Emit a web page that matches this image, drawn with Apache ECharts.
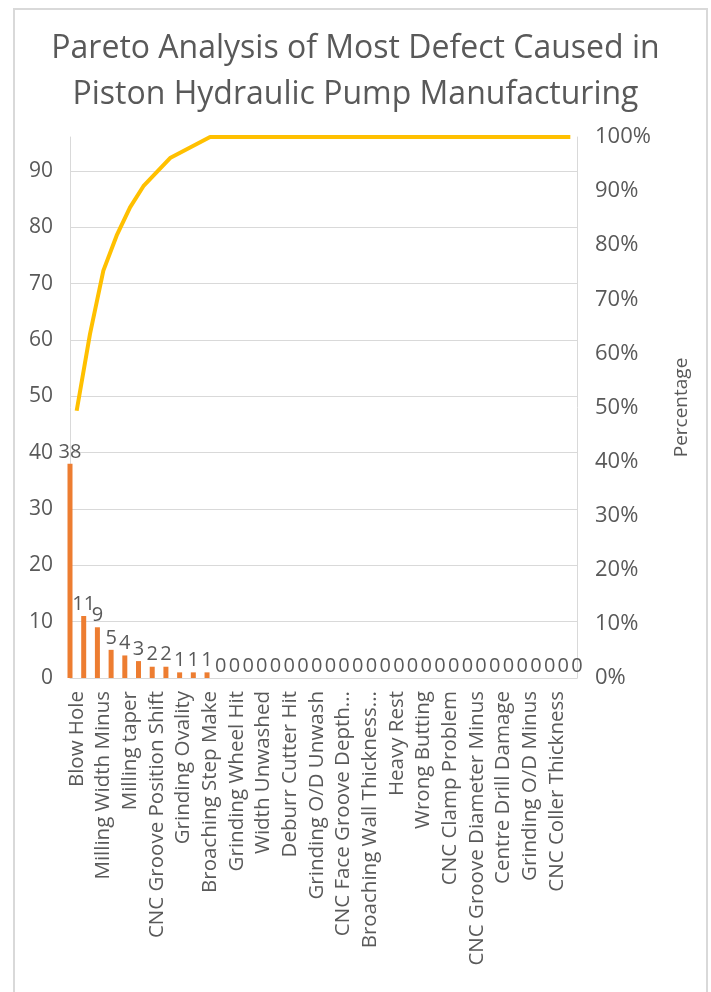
<!DOCTYPE html>
<html>
<head>
<meta charset="utf-8">
<title>Pareto Analysis</title>
<script src="https://cdn.jsdelivr.net/npm/echarts@6/dist/echarts.min.js"></script>
<style>
    html, body{
        margin: 0;
        padding: 0;
        background-color: #fff;
    }
    #chart{
        width: 711px;
        height: 992px;
    }
</style>
</head>
<body>
<div id="chart"></div>
<script>
    // shown category labels (every second one is shown on the axis)
    var shownCategories = ['Blow Hole', 'Milling Width Minus', 'Milling taper', 'CNC Groove Position Shift',
        'Grinding Ovality', 'Broaching Step Make', 'Grinding Wheel Hit', 'Width Unwashed', 'Deburr Cutter Hit',
        'Grinding O/D Unwash', 'CNC Face Groove Depth...', 'Broaching Wall Thickness...', 'Heavy Rest',
        'Wrong Butting', 'CNC Clamp Problem', 'CNC Groove Diameter Minus', 'Centre Drill Damage',
        'Grinding O/D Minus', 'CNC Coller Thickness'];
    // defect counts, 38 points
    var defectCounts = [38, 11, 9, 5, 4, 3, 2, 2, 1, 1, 1,
        0, 0, 0, 0, 0, 0, 0, 0, 0, 0, 0, 0, 0, 0, 0, 0, 0, 0, 0, 0, 0, 0, 0, 0, 0, 0, 0];
    // cumulative percentage
    var cumulativePct = [49.4, 63.6, 75.3, 81.8, 87.0, 90.9, 93.5, 96.1, 97.4, 98.7, 100,
        100, 100, 100, 100, 100, 100, 100, 100, 100, 100, 100, 100, 100, 100, 100, 100, 100, 100, 100, 100,
        100, 100, 100, 100, 100, 100, 100];
    var leftTicks = [0, 10, 20, 30, 40, 50, 60, 70, 80, 90];
    var rightTicks = [0, 10, 20, 30, 40, 50, 60, 70, 80, 90, 100];

    // axis slots: named ones at even positions
    var axisCategories = [];
    for (var i = 0; i < defectCounts.length; i++) {
        axisCategories.push(i % 2 === 0 ? (shownCategories[i / 2] || '') : '');
    }

    var textColor = '#595959';
    var lineGray = '#d9d9d9';
    var font = 'Open Sans';

    var myChart = echarts.init(document.getElementById('chart'));
    var option = {
        animation: false,
        backgroundColor: '#fff',
        textStyle: {fontFamily: font},
        graphic: [{
            type: 'rect',
            shape: {x: 14, y: 9, width: 693, height: 1000},
            style: {fill: 'none', stroke: lineGray, lineWidth: 2},
            silent: true
        }],
        title: {
            text: 'Pareto Analysis of Most Defect Caused in\nPiston Hydraulic Pump Manufacturing',
            left: 'center',
            top: 21,
            textStyle: {
                fontFamily: font,
                fontWeight: 'normal',
                fontSize: 32,
                lineHeight: 46,
                color: textColor
            }
        },
        grid: {left: 70, right: 134, top: 137, bottom: 314},
        xAxis: [{
            type: 'category',
            data: axisCategories,
            boundaryGap: true,
            axisLine: {lineStyle: {color: lineGray, width: 1}},
            axisTick: {show: false},
            axisLabel: {
                interval: 0,
                rotate: 90,
                margin: 13,
                color: textColor,
                fontSize: 20.5,
                fontFamily: font
            }
        }, {
            type: 'category',
            data: axisCategories,
            boundaryGap: false,
            show: false
        }],
        yAxis: [{
            type: 'value',
            min: 0,
            max: 96,
            interval: 10,
            axisLine: {show: true, lineStyle: {color: lineGray}},
            axisTick: {show: false},
            axisLabel: {
                color: textColor,
                fontSize: 21,
                margin: 17,
                showMaxLabel: false,
                formatter: function (v) { return leftTicks.indexOf(v) >= 0 ? String(v) : ''; }
            },
            splitLine: {lineStyle: {color: lineGray, width: 1}, showMaxLine: false}
        }, {
            type: 'value',
            min: 0,
            max: 100,
            interval: 10,
            position: 'right',
            name: 'Percentage',
            nameLocation: 'middle',
            nameRotate: 90,
            nameGap: 95,
            nameTextStyle: {color: textColor, fontSize: 19, fontFamily: font},
            axisLine: {show: true, lineStyle: {color: lineGray}},
            axisTick: {show: false},
            axisLabel: {
                color: textColor,
                fontSize: 22,
                margin: 18,
                formatter: function (v) { return rightTicks.indexOf(v) >= 0 ? v + '%' : ''; }
            },
            splitLine: {show: false}
        }],
        series: [{
            name: 'Defects',
            type: 'bar',
            xAxisIndex: 1,
            yAxisIndex: 0,
            data: defectCounts,
            barWidth: 5,
            itemStyle: {color: '#ED7D31'},
            label: {
                show: true,
                position: 'top',
                distance: 2,
                color: textColor,
                fontSize: 20,
                fontFamily: font
            }
        }, {
            name: 'Percentage',
            type: 'line',
            xAxisIndex: 0,
            yAxisIndex: 1,
            data: cumulativePct,
            showSymbol: false,
            symbol: 'none',
            lineStyle: {color: '#FFC000', width: 4},
            itemStyle: {color: '#FFC000'}
        }]
    };
    myChart.setOption(option);
</script>
</body>
</html>
